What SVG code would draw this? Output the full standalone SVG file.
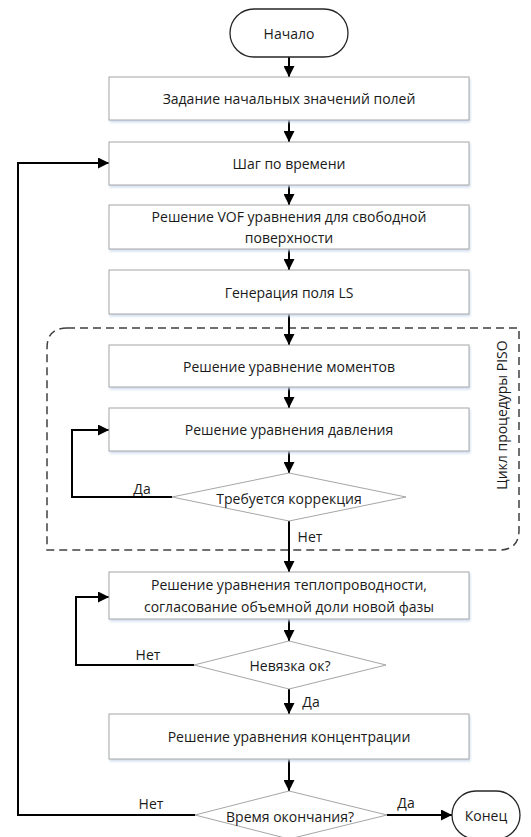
<svg xmlns="http://www.w3.org/2000/svg" width="531" height="837" viewBox="0 0 531 837">
<defs>
<marker id="ah" markerUnits="userSpaceOnUse" markerWidth="11" markerHeight="11" refX="11" refY="5.5" orient="auto">
<path d="M0,0 L11,5.5 L0,11 z" fill="#000"/>
</marker>
<filter id="sh" x="-5%" y="-20%" width="110%" height="150%">
<feDropShadow dx="1" dy="2" stdDeviation="1.2" flood-color="#c9d7ea" flood-opacity="0.8"/>
</filter>
</defs>
<style>
text{font-family:"Open Sans","Liberation Sans",sans-serif;font-size:14px;fill:#1a1a1a}
.c{text-anchor:middle;dominant-baseline:central}
.box{fill:#fff;stroke:#a6a6a6;stroke-width:1;filter:url(#sh)}
.dia{fill:#fff;stroke:#a6a6a6;stroke-width:1}
.term{fill:#fff;stroke:#262626;stroke-width:1.3}
.ln{fill:none;stroke:#000;stroke-width:2}
.ar{fill:none;stroke:#000;stroke-width:2;marker-end:url(#ah)}
.dash{fill:none;stroke:#404040;stroke-width:1.5;stroke-dasharray:8 5}
</style>
<rect width="531" height="837" fill="#fff"/>

<g id="piso-frame">
<path class="dash" d="M67,328 L519,328 L519,530 Q519,550 499,550 L47,550 L47,348 Q47,328 67,328 Z"/>
<text class="c" transform="translate(501,415) rotate(-90)">Цикл процедуры PISO</text>
</g>

<g id="connectors">
<path class="ar" d="M289,57 L289,77"/>
<path class="ar" d="M289,120 L289,142"/>
<path class="ar" d="M289,185 L289,205"/>
<path class="ar" d="M289,249 L289,270"/>
<path class="ar" d="M289,314 L289,345"/>
<path class="ar" d="M289,387 L289,408"/>
<path class="ar" d="M289,451 L289,473"/>
<path class="ar" d="M172,497 L72,497 L72,430 L109,430"/>
<path class="ar" d="M289,521 L289,572"/>
<path class="ar" d="M289,619 L289,641"/>
<path class="ar" d="M194,665 L76,665 L76,597 L109,597"/>
<path class="ar" d="M289,689 L289,714"/>
<path class="ar" d="M289,759 L289,791"/>
<path class="ar" d="M387,815 L452,815"/>
<path class="ar" d="M195,815 L18,815 L18,163 L109,163"/>
<text x="142" y="488" class="c">Да</text>
<text x="310" y="536" class="c">Нет</text>
<text x="148" y="654" class="c">Нет</text>
<text x="311" y="701" class="c">Да</text>
<text x="151" y="803" class="c">Нет</text>
<text x="406" y="802" class="c">Да</text>
</g>

<g id="start">
<rect class="term" x="230" y="9" width="118" height="48" rx="24"/>
<text class="c" x="289" y="33">Начало</text>
</g>
<g id="init">
<rect class="box" x="109" y="77" width="360" height="43"/>
<text class="c" x="289" y="98.5">Задание начальных значений полей</text>
</g>
<g id="timestep">
<rect class="box" x="109" y="142" width="360" height="43"/>
<text class="c" x="289" y="163.5">Шаг по времени</text>
</g>
<g id="vof">
<rect class="box" x="109" y="205" width="360" height="44"/>
<text class="c" x="289" y="216.5">Решение VOF уравнения для свободной</text>
<text class="c" x="289" y="237.5">поверхности</text>
</g>
<g id="ls">
<rect class="box" x="109" y="270" width="360" height="44"/>
<text class="c" x="289" y="292">Генерация поля LS</text>
</g>
<g id="momentum">
<rect class="box" x="109" y="345" width="360" height="42"/>
<text class="c" x="289" y="366">Решение уравнение моментов</text>
</g>
<g id="pressure">
<rect class="box" x="109" y="408" width="360" height="43"/>
<text class="c" x="289" y="429.5">Решение уравнения давления</text>
</g>
<g id="correction">
<polygon class="dia" points="289,473 406,497 289,521 172,497"/>
<text class="c" x="289" y="498">Требуется коррекция</text>
</g>
<g id="heat">
<rect class="box" x="109" y="572" width="360" height="47"/>
<text class="c" x="289" y="584.5">Решение уравнения теплопроводности,</text>
<text class="c" x="289" y="606.5">согласование объемной доли новой фазы</text>
</g>
<g id="residual">
<polygon class="dia" points="289,641 386,665 289,689 194,665"/>
<text class="c" x="290" y="665">Невязка ок?</text>
</g>
<g id="concentration">
<rect class="box" x="109" y="714" width="360" height="45"/>
<text class="c" x="289" y="736.5">Решение уравнения концентрации</text>
</g>
<g id="endtime">
<polygon class="dia" points="289,791 387,815 289,839 195,815"/>
<text class="c" x="290" y="816">Время окончания?</text>
</g>
<g id="end">
<rect class="term" x="452" y="791" width="68" height="48" rx="24"/>
<text class="c" x="486" y="815">Конец</text>
</g>
</svg>
